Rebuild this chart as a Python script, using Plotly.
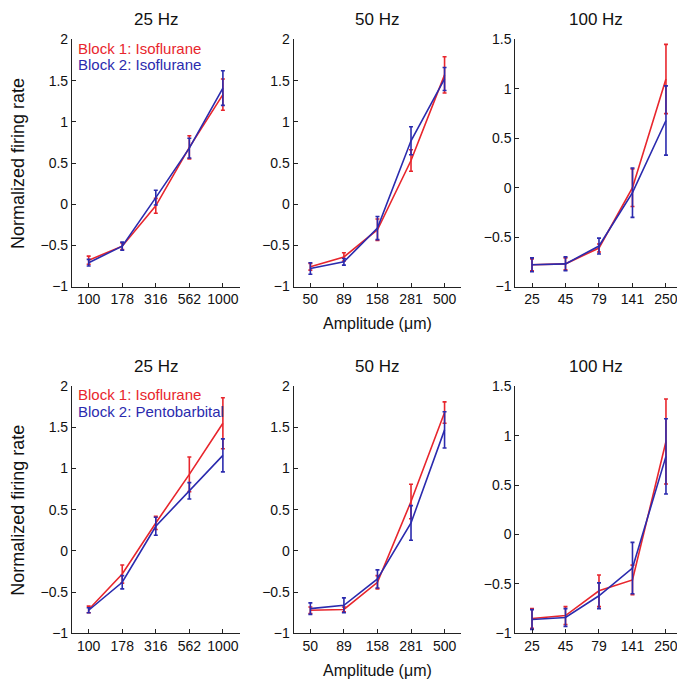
import plotly.graph_objects as go

W, H = 685, 689
OFF = 8  # page body margin of the browser

# ---------------- data ----------------
freqs = ["25 Hz", "50 Hz", "100 Hz"]
amp_25 = ["100", "178", "316", "562", "1000"]
amp_50 = ["50", "89", "158", "281", "500"]
amp_100 = ["25", "45", "79", "141", "250"]

# Top row: Block 1 Isoflurane vs Block 2 Isoflurane
top_b1_25 = [-0.68, -0.51, -0.02, 0.69, 1.33]
top_b1_25_err = [0.05, 0.04, 0.09, 0.14, 0.19]
top_b2_25 = [-0.71, -0.51, 0.08, 0.68, 1.41]
top_b2_25_err = [0.04, 0.05, 0.09, 0.12, 0.21]

top_b1_50 = [-0.76, -0.64, -0.31, 0.53, 1.57]
top_b1_50_err = [0.04, 0.05, 0.13, 0.13, 0.22]
top_b2_50 = [-0.78, -0.70, -0.29, 0.77, 1.52]
top_b2_50_err = [0.07, 0.04, 0.14, 0.17, 0.14]

top_b1_100 = [-0.78, -0.77, -0.61, 0.00, 1.10]
top_b1_100_err = [0.06, 0.06, 0.04, 0.19, 0.35]
top_b2_100 = [-0.78, -0.77, -0.59, -0.05, 0.68]
top_b2_100_err = [0.07, 0.07, 0.08, 0.25, 0.35]

# Bottom row: Block 1 Isoflurane vs Block 2 Pentobarbital
bot_b1_25 = [-0.71, -0.28, 0.34, 0.93, 1.55]
bot_b1_25_err = [0.04, 0.11, 0.08, 0.21, 0.31]
bot_b2_25 = [-0.72, -0.38, 0.30, 0.73, 1.16]
bot_b2_25_err = [0.03, 0.08, 0.11, 0.10, 0.20]

bot_b1_50 = [-0.72, -0.71, -0.38, 0.60, 1.68]
bot_b1_50_err = [0.04, 0.03, 0.08, 0.21, 0.13]
bot_b2_50 = [-0.70, -0.66, -0.34, 0.34, 1.47]
bot_b2_50_err = [0.07, 0.09, 0.11, 0.21, 0.22]

bot_b1_100 = [-0.85, -0.82, -0.57, -0.46, 0.94]
bot_b1_100_err = [0.10, 0.09, 0.16, 0.15, 0.43]
bot_b2_100 = [-0.86, -0.84, -0.62, -0.34, 0.79]
bot_b2_100_err = [0.10, 0.09, 0.13, 0.26, 0.38]

top_labels = ["Block 1: Isoflurane", "Block 2: Isoflurane"]
bot_labels = ["Block 1: Isoflurane", "Block 2: Pentobarbital"]

y_ticks_2 = [-1, -0.5, 0, 0.5, 1, 1.5, 2]
y_ticks_15 = [-1, -0.5, 0, 0.5, 1, 1.5]

# ---------------- style ----------------
RED = "#e8262d"
BLUE = "#2b2bae"
FONT = "Liberation Sans, Arial, Helvetica, sans-serif"

# panel boxes in screen pixels (x0, x1), (y0, y1)
col_px = [(72, 240), (294, 462), (516, 678)]
col_xmax = [4.5, 4.5, 4.33]
row_px = [(32, 285), (387, 640)]


def fx(px):
    return (px - OFF) / W


def fy(py):
    return 1 - (py - OFF) / H


fig = go.Figure()

amps = [amp_25, amp_50, amp_100]
rows = [
    [(top_b1_25, top_b1_25_err, top_b2_25, top_b2_25_err),
     (top_b1_50, top_b1_50_err, top_b2_50, top_b2_50_err),
     (top_b1_100, top_b1_100_err, top_b2_100, top_b2_100_err)],
    [(bot_b1_25, bot_b1_25_err, bot_b2_25, bot_b2_25_err),
     (bot_b1_50, bot_b1_50_err, bot_b2_50, bot_b2_50_err),
     (bot_b1_100, bot_b1_100_err, bot_b2_100, bot_b2_100_err)],
]
yranges = [[-1, 2], [-1, 2], [-1, 1.5]]
yticks = [y_ticks_2, y_ticks_2, y_ticks_15]

layout = {}
annotations = []
idx = 0
for r in range(2):
    y0, y1 = row_px[r]
    for c in range(3):
        idx += 1
        x0, x1 = col_px[c]
        xa = "x" if idx == 1 else f"x{idx}"
        ya = "y" if idx == 1 else f"y{idx}"
        xkey = "xaxis" if idx == 1 else f"xaxis{idx}"
        ykey = "yaxis" if idx == 1 else f"yaxis{idx}"
        b1, e1, b2, e2 = rows[r][c]
        xs = list(range(len(amps[c])))
        for vals, errs, col in ((b1, e1, RED), (b2, e2, BLUE)):
            fig.add_trace(go.Scatter(
                x=xs, y=vals, mode="lines",
                line=dict(color=col, width=1.6),
                error_y=dict(type="data", array=errs, visible=True,
                             color=col, thickness=1.6, width=2),
                xaxis=xa, yaxis=ya, showlegend=False, hoverinfo="skip"))
        layout[xkey] = dict(
            domain=[fx(x0), fx(x1)], anchor=ya,
            range=[-0.5, col_xmax[c]], tickmode="array", tickvals=xs,
            ticktext=amps[c], ticks="inside", ticklen=4, tickcolor="#222",
            showline=True, linecolor="#222", linewidth=1,
            showgrid=False, zeroline=False,
            tickfont=dict(family=FONT, size=14, color="#111"))
        layout[ykey] = dict(
            domain=[fy(y1), fy(y0)], anchor=xa,
            range=yranges[c], tickmode="array", tickvals=yticks[c],
            ticks="inside", ticklen=4, tickcolor="#222",
            showline=True, linecolor="#222", linewidth=1,
            showgrid=False, zeroline=False,
            tickfont=dict(family=FONT, size=14, color="#111"))
        # panel title
        annotations.append(dict(
            text=freqs[c], x=fx((x0 + x1) / 2), y=fy(y0 - 20),
            xref="paper", yref="paper", showarrow=False,
            xanchor="center", yanchor="middle",
            font=dict(family=FONT, size=17, color="#111")))
    # legend text in first panel of each row
    labels = top_labels if r == 0 else bot_labels
    for k, (lab, col) in enumerate(zip(labels, (RED, BLUE))):
        annotations.append(dict(
            text=lab, x=fx(col_px[0][0] + 4), y=fy(y0 + 9 + 17 * k),
            xref="paper", yref="paper", showarrow=False,
            xanchor="left", yanchor="middle",
            font=dict(family=FONT, size=15, color=col)))
    # y title
    annotations.append(dict(
        text="Normalized firing rate", x=fx(18), y=fy((y0 + y1) / 2),
        xref="paper", yref="paper", showarrow=False, textangle=-90,
        xanchor="center", yanchor="middle",
        font=dict(family=FONT, size=18, color="#111")))
    # x title
    annotations.append(dict(
        text="Amplitude (\u03bcm)", x=fx((col_px[1][0] + col_px[1][1]) / 2),
        y=fy(y1 + 38),
        xref="paper", yref="paper", showarrow=False,
        xanchor="center", yanchor="middle",
        font=dict(family=FONT, size=16, color="#111")))

fig.update_layout(
    width=W, height=H,
    margin=dict(l=0, r=0, t=0, b=0),
    paper_bgcolor="white", plot_bgcolor="white",
    annotations=annotations,
    **layout)

fig.write_html("out.html")
